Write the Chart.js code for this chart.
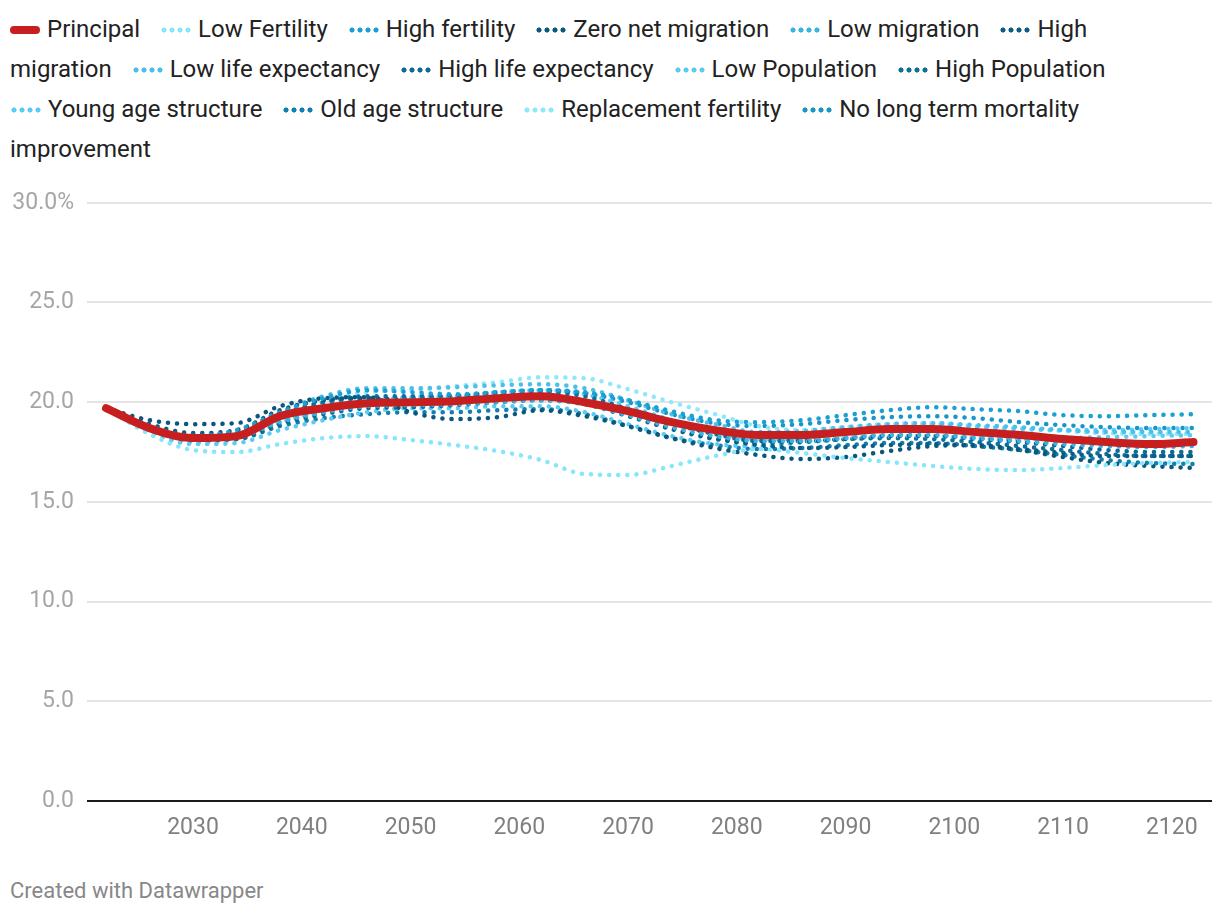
<!DOCTYPE html>
<html>
<head>
<meta charset="utf-8">
<script src="https://cdn.jsdelivr.net/npm/chart.js@4/dist/chart.umd.min.js"></script>
<style>
  body { margin: 0; background: #fff; font-family: Roboto, sans-serif; width: 1220px; height: 916px; overflow: hidden; position: relative; }
  #legend { position: absolute; left: 10px; top: 9px; width: 1180px; font-size: 24px; line-height: 40px; color: #222; }
  .item { margin-right: 14px; }
  .nw { white-space: nowrap; }
  .mark { display: inline-block; width: 31px; height: 6px; margin-right: 7px; vertical-align: 4px; }
  .solid { height: 8px; width: 30px; border-radius: 4px; vertical-align: 3px; }
  #wrap { position: absolute; left: 0; top: 176px; width: 1220px; height: 675px; }
  #footer { position: absolute; left: 10px; top: 878px; font-size: 22px; color: #888; }
</style>
</head>
<body>
<div id="legend"></div>
<div id="wrap"><canvas id="chart"></canvas></div>
<div id="footer">Created with Datawrapper</div>
<script>
let years = [2022, 2026, 2030, 2034, 2038, 2042, 2046, 2050, 2054, 2058, 2062, 2066, 2070,
  2074, 2078, 2082, 2086, 2090, 2094, 2098, 2102, 2106, 2110, 2114, 2118, 2122];

let principal = [19.7, 18.7, 18.2, 18.3, 19.3, 19.7, 19.95, 20.0, 20.05, 20.2, 20.3, 20.0, 19.55,
  19.0, 18.6, 18.35, 18.35, 18.5, 18.65, 18.65, 18.5, 18.35, 18.15, 18.0, 17.9, 18.0];
let lowFertility = [19.7, 18.4, 17.6, 17.5, 17.9, 18.2, 18.3, 18.1, 17.85, 17.55, 17.1, 16.4, 16.35,
  16.8, 17.3, 17.65, 17.45, 17.2, 17.0, 16.8, 16.65, 16.6, 16.7, 16.85, 16.95, 17.0];
let highFertility = [19.7, 18.8, 18.3, 18.6, 19.5, 20.2, 20.6, 20.5, 20.4, 20.5, 20.6, 20.5, 20.1,
  19.55, 19.1, 19.0, 19.1, 19.35, 19.6, 19.75, 19.65, 19.55, 19.35, 19.3, 19.35, 19.4];
let zeroNetMigration = [19.7, 19.1, 18.9, 18.95, 19.8, 20.2, 20.25, 19.5, 19.15, 19.25, 19.6, 19.3, 18.8,
  18.2, 17.7, 17.35, 17.15, 17.25, 17.55, 17.8, 17.85, 17.6, 17.25, 16.95, 16.8, 16.7];
let lowMigration = [19.7, 18.7, 18.15, 18.25, 19.0, 19.5, 19.8, 19.85, 19.9, 20.0, 20.1, 19.9, 19.35,
  18.75, 18.3, 18.05, 18.05, 18.2, 18.35, 18.35, 18.2, 18.05, 17.9, 17.8, 17.75, 17.8];
let highMigration = [19.7, 18.9, 18.45, 18.6, 19.6, 20.1, 20.2, 20.05, 20.0, 20.1, 20.2, 20.0, 19.4,
  18.7, 18.2, 17.85, 17.7, 17.75, 17.85, 17.9, 17.8, 17.65, 17.45, 17.3, 17.3, 17.3];
let lowLifeExpectancy = [19.7, 18.85, 18.35, 18.5, 19.5, 20.3, 20.7, 20.7, 20.75, 20.85, 20.9, 20.7, 20.1,
  19.4, 18.9, 18.5, 18.55, 18.75, 18.9, 18.95, 18.85, 18.75, 18.6, 18.5, 18.5, 18.5];
let highLifeExpectancy = [19.7, 18.65, 18.1, 18.15, 18.9, 19.4, 19.7, 19.75, 19.85, 20.0, 20.1, 19.9, 19.3,
  18.65, 18.15, 17.95, 18.0, 18.15, 18.3, 18.3, 18.15, 18.0, 17.8, 17.6, 17.5, 17.5];
let lowPopulation = [19.7, 18.5, 17.9, 17.95, 18.6, 19.1, 19.5, 19.7, 19.7, 19.8, 19.8, 19.5, 18.9,
  18.3, 17.9, 17.8, 18.0, 18.2, 18.3, 18.3, 18.2, 18.15, 18.2, 18.25, 18.3, 18.35];
let highPopulation = [19.7, 18.8, 18.3, 18.4, 19.4, 20.0, 20.3, 20.3, 20.35, 20.4, 20.5, 20.3, 19.65,
  18.95, 18.4, 18.05, 18.05, 18.15, 18.2, 18.15, 18.0, 17.8, 17.6, 17.4, 17.3, 17.3];
let youngAgeStructure = [19.7, 18.6, 18.0, 18.15, 19.0, 19.6, 20.0, 20.25, 20.3, 20.5, 20.6, 20.4, 19.8,
  19.1, 18.5, 18.15, 18.2, 18.45, 18.75, 18.85, 18.75, 18.65, 18.6, 18.6, 18.65, 18.7];
let oldAgeStructure = [19.7, 18.7, 18.1, 18.15, 18.8, 19.2, 19.4, 19.5, 19.5, 19.6, 19.65, 19.4, 18.8,
  18.2, 17.85, 17.65, 17.7, 17.85, 17.95, 17.95, 17.8, 17.6, 17.35, 17.1, 16.95, 16.9];
let replacementFertility = [19.7, 18.8, 18.2, 18.3, 19.2, 20.0, 20.5, 20.6, 20.8, 21.0, 21.25, 21.2, 20.65,
  20.0, 19.4, 18.8, 18.6, 18.75, 18.9, 18.95, 18.8, 18.7, 18.55, 18.45, 18.4, 18.4];
let noMortalityImprovement = [19.7, 18.8, 18.3, 18.45, 19.4, 19.9, 20.2, 20.2, 20.3, 20.5, 20.6, 20.45, 20.0,
  19.4, 18.95, 18.8, 18.9, 19.1, 19.25, 19.3, 19.2, 19.0, 18.85, 18.75, 18.7, 18.7];

let seriesNames = ["Principal", "Low Fertility", "High fertility", "Zero net migration", "Low migration",
  "High migration", "Low life expectancy", "High life expectancy", "Low Population", "High Population",
  "Young age structure", "Old age structure", "Replacement fertility", "No long term mortality improvement"];
let seriesColors = ["#c71f1f", "#86e6fb", "#1ba0d3", "#0a587c", "#37b4e1", "#0b5d85", "#4bbfea",
  "#0e6a93", "#5ccbf2", "#0f6e9a", "#58cdf6", "#137fae", "#8ee8fc", "#1a96c6"];
let seriesValues = [principal, lowFertility, highFertility, zeroNetMigration, lowMigration, highMigration,
  lowLifeExpectancy, highLifeExpectancy, lowPopulation, highPopulation, youngAgeStructure, oldAgeStructure,
  replacementFertility, noMortalityImprovement];

let yTicks = [0, 5, 10, 15, 20, 25, 30];
let xTicks = [2030, 2040, 2050, 2060, 2070, 2080, 2090, 2100, 2110, 2120];

function buildLegend() {
  let legend = document.getElementById("legend");
  legend.innerHTML = seriesNames.map((name, i) => {
    let color = seriesColors[i];
    let mark = i === 0
      ? `<span class="mark solid" style="background:${color}"></span>`
      : `<span class="mark" style="background-image:radial-gradient(circle, ${color} 2.3px, transparent 2.8px);background-size:8px 6px"></span>`;
    let words = name.split(" ");
    let first = words.shift();
    let rest = words.length ? " " + words.join(" ") : "";
    return `<span class="item"><span class="nw">${mark}${first}</span>${rest}</span> `;
  }).join("");
}

function buildDatasets() {
  return seriesNames.map((name, i) => {
    let dotted = i !== 0;
    return {
      label: name,
      data: years.map((year, j) => ({ x: year, y: seriesValues[i][j] })),
      borderColor: seriesColors[i],
      borderWidth: dotted ? 4.5 : 8,
      borderDash: dotted ? [0.1, 9] : [],
      borderCapStyle: "round",
      borderJoinStyle: "round",
      pointRadius: 0,
      cubicInterpolationMode: "monotone",
      fill: false
    };
  });
}

buildLegend();

let ctx = document.getElementById("chart").getContext("2d");
let chart = new Chart(ctx, {
  type: "line",
  data: { datasets: buildDatasets() },
  options: {
    responsive: true,
    maintainAspectRatio: false,
    animation: false,
    layout: { padding: { top: 20, right: 8, left: 0, bottom: 0 } },
    plugins: { legend: { display: false }, tooltip: { enabled: false } },
    scales: {
      x: {
        type: "linear",
        min: 2020.25,
        max: 2123.7,
        afterBuildTicks: scale => { scale.ticks = xTicks.map(v => ({ value: v })); },
        afterFit: scale => { scale.height = 50; },
        grid: { display: false, drawTicks: false },
        border: { display: false },
        ticks: {
          padding: 13,
          color: "#808080",
          font: { family: "Roboto", size: 23 },
          maxRotation: 0,
          callback: v => String(v)
        }
      },
      y: {
        min: 0,
        max: 30,
        afterBuildTicks: scale => { scale.ticks = yTicks.map(v => ({ value: v })); },
        afterFit: scale => { scale.width = 87; },
        grid: {
          drawTicks: false,
          lineWidth: 2,
          color: c => c.tick.value === 0 ? "#1a1a1a" : "#e4e4e4"
        },
        border: { display: false },
        ticks: {
          padding: 13,
          color: "#a6a6a6",
          font: { family: "Roboto", size: 23 },
          callback: v => v === 30 ? "30.0%" : v.toFixed(1)
        }
      }
    }
  }
});
</script>
</body>
</html>
